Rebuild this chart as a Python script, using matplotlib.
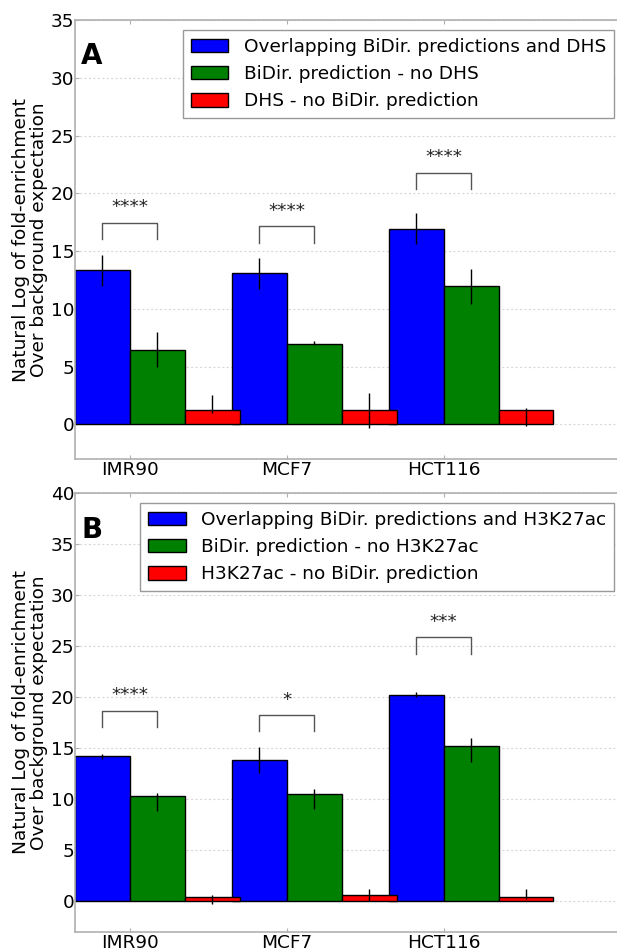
import numpy as np
import matplotlib
matplotlib.use("Agg")
import matplotlib.pyplot as plt

FS = 13.3
plt.rcParams['font.family'] = ['DejaVu Sans']
plt.rcParams['font.size'] = FS

cell_lines = ["IMR90", "MCF7", "HCT116"]

# Panel A: DHS
a_labels = ["Overlapping BiDir. predictions and DHS",
            "BiDir. prediction - no DHS",
            "DHS - no BiDir. prediction"]
a_overlap = [13.34, 13.11, 16.95]
a_overlap_err = [[1.33, 1.36, 1.30], [1.33, 1.33, 1.33]]
a_bidir = [6.44, 6.98, 11.98]
a_bidir_err = [[1.47, 0.13, 1.56], [1.53, 0.21, 1.45]]
a_other = [1.21, 1.21, 1.21]
a_other_err = [[0.21, 1.50, 1.33], [1.36, 1.50, 0.23]]
a_bracket = [17.47, 17.18, 21.80]
a_stars = ["****", "****", "****"]

# Panel B: H3K27ac
b_labels = ["Overlapping BiDir. predictions and H3K27ac",
            "BiDir. prediction - no H3K27ac",
            "H3K27ac - no BiDir. prediction"]
b_overlap = [14.25, 13.86, 20.20]
b_overlap_err = [[0.32, 1.27, 0.17], [0.17, 1.24, 0.35]]
b_bidir = [10.33, 10.46, 15.20]
b_bidir_err = [[1.47, 1.46, 1.57], [0.23, 0.56, 0.75]]
b_other = [0.37, 0.57, 0.41]
b_other_err = [[0.64, 0.55, 0.19], [0.20, 0.62, 0.75]]
b_bracket = [18.69, 18.27, 25.88]
b_stars = ["****", "*", "***"]

W, H = 617, 949
fig = plt.figure(figsize=(W / 100, H / 100), dpi=100)

width = 0.35
ind = np.arange(len(cell_lines))
spine_color = "#b0b0b0"


def panel(rect, letter, letter_y, labels, series, errs, bracket, stars, ymax, yticks):
    ax = fig.add_axes(rect)
    colors = ["#0000ff", "#008000", "#ff0000"]
    for i, (vals, err, c, lab) in enumerate(zip(series, errs, colors, labels)):
        ax.bar(ind + i * width, vals, width, align="edge", color=c,
               edgecolor="black", linewidth=1.0, label=lab, zorder=2)
        ax.errorbar(ind + i * width + width / 2, vals, yerr=err, fmt="none",
                    ecolor="black", elinewidth=1.0, capsize=0, zorder=3)
    ax.set_xlim(0, 3.5)
    ax.set_ylim(-3, ymax)
    ax.set_yticks(yticks)
    ax.set_xticks(ind + width)
    ax.set_xticklabels(cell_lines)
    ax.yaxis.grid(True, color="#d8d8d8", linestyle=(0, (2, 2)), linewidth=0.8, zorder=0)
    ax.set_axisbelow(True)
    for s in ax.spines.values():
        s.set_color(spine_color)
        s.set_linewidth(1.2)
    ax.tick_params(direction="in", length=3, color=spine_color,
                   top=True, right=True, labelsize=FS)
    ax.tick_params(axis="y", pad=0.4)
    ax.tick_params(axis="x", pad=1.5)
    ax.set_ylabel("Natural Log of fold-enrichment\nOver background expectation",
                  fontsize=FS, linespacing=1.0)
    ax.yaxis.set_label_coords(-0.049, 0.5)

    # significance brackets between overlap and bidir bars
    pix = ax.transData.transform([(0, 0), (0, 1)])
    unit_px = pix[1, 1] - pix[0, 1]
    drop = 16.6 / unit_px
    for k, (top, st) in enumerate(zip(bracket, stars)):
        x0 = ind[k] + width / 2
        x1 = ind[k] + 1.5 * width
        ax.plot([x0, x0, x1, x1], [top - drop, top, top, top - drop],
                color="#555555", linewidth=1.0, zorder=4)
        ax.annotate(st, xy=((x0 + x1) / 2, top), xytext=(0, 11),
                    textcoords="offset points", ha="center", va="center",
                    fontsize=FS, color="#222222")

    ax.text(0.011, letter_y, letter, transform=ax.transAxes, fontsize=20,
            fontweight="bold", ha="left", va="baseline")

    leg = ax.legend(loc="upper right", fontsize=FS, handlelength=2.05,
                    handleheight=0.75, handletextpad=0.85, borderpad=0.4,
                    labelspacing=0.5, borderaxespad=0.55, fancybox=False,
                    framealpha=1.0)
    leg.get_frame().set_edgecolor("#999999")
    leg.get_frame().set_linewidth(1.0)
    return ax


left = 75 / W
awidth = (624 - 75) / W
panel([left, (H - 459) / H, awidth, (459 - 20.3) / H], "A", 0.900, a_labels,
      [a_overlap, a_bidir, a_other], [a_overlap_err, a_bidir_err, a_other_err],
      a_bracket, a_stars, 35, range(0, 36, 5))
panel([left, (H - 931.7) / H, awidth, (931.7 - 493.3) / H], "B", 0.899, b_labels,
      [b_overlap, b_bidir, b_other], [b_overlap_err, b_bidir_err, b_other_err],
      b_bracket, b_stars, 40, range(0, 41, 5))

fig.savefig("out.png", dpi=100)
